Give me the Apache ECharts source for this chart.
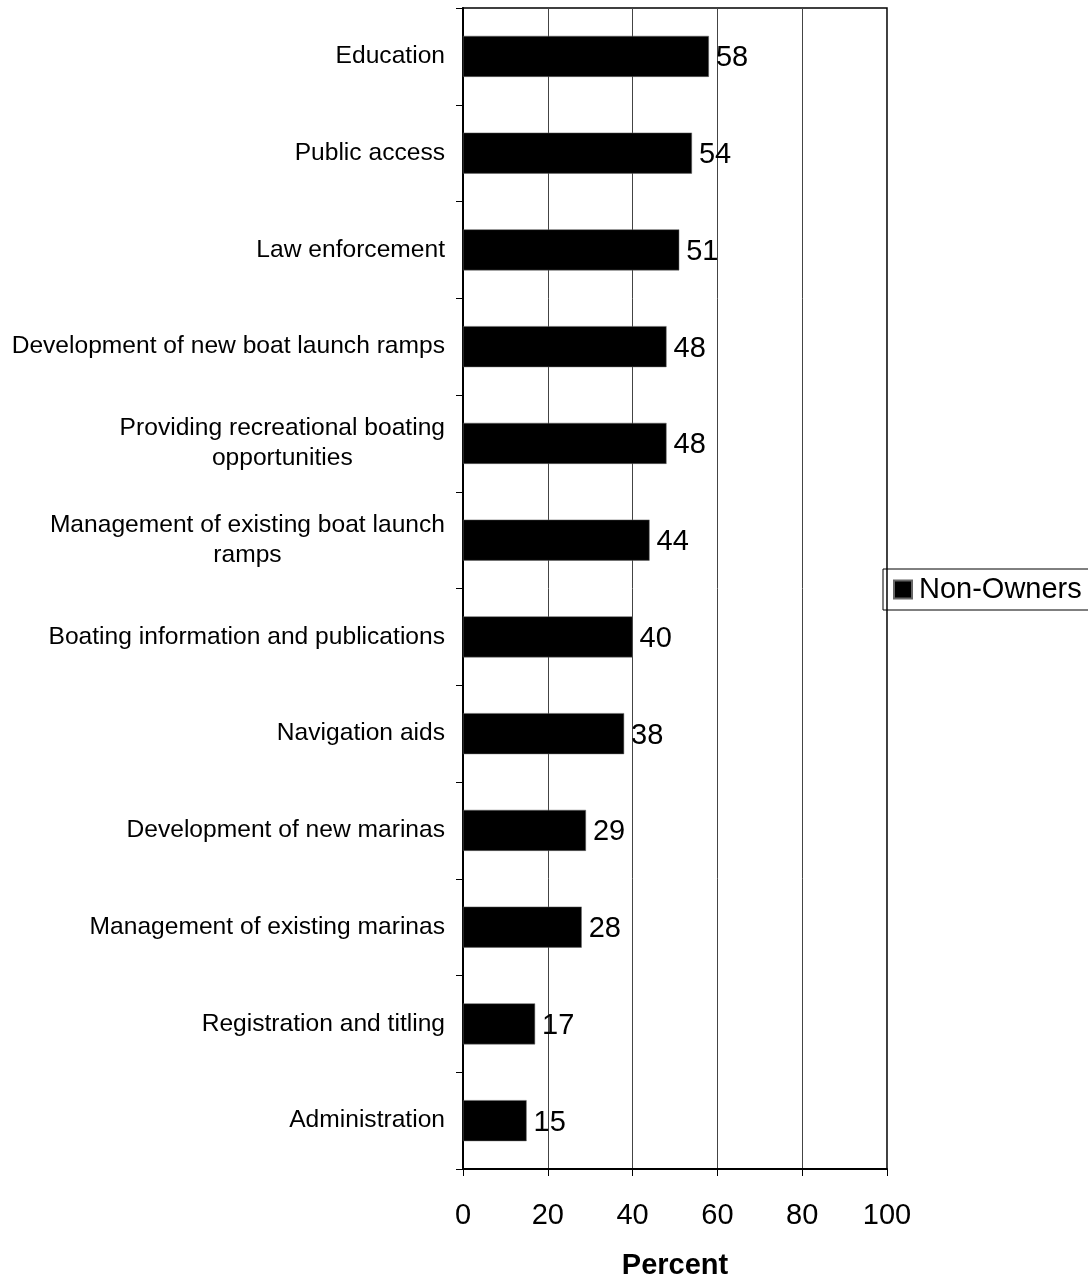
<!DOCTYPE html>
<html>
<head>
<meta charset="utf-8">
<script src="https://cdn.jsdelivr.net/npm/echarts@6/dist/echarts.min.js"></script>
<style>
  html, body { margin: 0; padding: 0; background: #fff; }
  #chart { width: 1088px; height: 1278px; }
</style>
</head>
<body>
<div id="chart"></div>
<script>
// Survey items, listed top to bottom
const categories = [
  'Education',
  'Public access',
  'Law enforcement',
  'Development of new boat launch ramps',
  'Providing recreational boating\nopportunities',
  'Management of existing boat launch\nramps',
  'Boating information and publications',
  'Navigation aids',
  'Development of new marinas',
  'Management of existing marinas',
  'Registration and titling',
  'Administration'
];
// Share of non-owners rating each item (percent)
const nonOwners = [58, 54, 51, 48, 48, 44, 40, 38, 29, 28, 17, 15];
const seriesName = 'Non-Owners';
const axisTitle = 'Percent';

const FONT = 'Liberation Sans, Arial, sans-serif';

const chart = echarts.init(document.getElementById('chart'), null, { renderer: 'canvas' });
chart.setOption({
  animation: false,
  backgroundColor: '#ffffff',
  textStyle: { fontFamily: FONT, color: '#000' },
  legend: {
    data: [seriesName],
    left: 883,
    top: 569,
    orient: 'vertical',
    icon: 'rect',
    itemWidth: 18,
    itemHeight: 18,
    itemGap: 0,
    padding: [6, 30, 6, 10],
    borderColor: '#000',
    borderWidth: 1,
    textStyle: { fontFamily: FONT, fontSize: 29, color: '#000', padding: [0, 0, 0, 2] }
  },
  grid: {
    left: 463,
    right: 201,
    top: 8,
    bottom: 109,
    containLabel: false,
    outerBoundsMode: 'none',
    show: true,
    borderColor: '#000',
    borderWidth: 1.5,
    backgroundColor: 'transparent'
  },
  xAxis: {
    type: 'value',
    min: 0,
    max: 100,
    interval: 20,
    name: axisTitle,
    nameLocation: 'middle',
    nameGap: 82,
    nameTextStyle: { fontFamily: FONT, fontSize: 29, fontWeight: 'bold', color: '#000' },
    axisLine: { show: true, lineStyle: { color: '#000', width: 2 } },
    axisTick: { show: true, length: 7, inside: false, lineStyle: { color: '#000', width: 1 } },
    axisLabel: { fontFamily: FONT, fontSize: 29, color: '#000', margin: 32 },
    splitLine: { show: true, lineStyle: { color: '#444', width: 1 } }
  },
  yAxis: {
    type: 'category',
    data: categories,
    inverse: true,
    axisLine: { show: true, lineStyle: { color: '#000', width: 2 } },
    axisTick: { show: true, length: 7, alignWithLabel: false, lineStyle: { color: '#000', width: 1 } },
    axisLabel: {
      margin: 18,
      interval: 0,
      formatter: v => '{c|' + v + '}',
      rich: {
        c: { fontFamily: FONT, fontSize: 24.6, color: '#000', align: 'center', lineHeight: 30 }
      }
    },
    splitLine: { show: false }
  },
  series: [{
    name: seriesName,
    type: 'bar',
    data: nonOwners,
    barWidth: 41,
    itemStyle: { color: '#000', borderColor: '#666', borderWidth: 0.5 },
    label: {
      show: true,
      position: 'right',
      distance: 7,
      offset: [0, 2],
      fontFamily: FONT,
      fontSize: 29,
      color: '#000'
    }
  }]
});
</script>
</body>
</html>
